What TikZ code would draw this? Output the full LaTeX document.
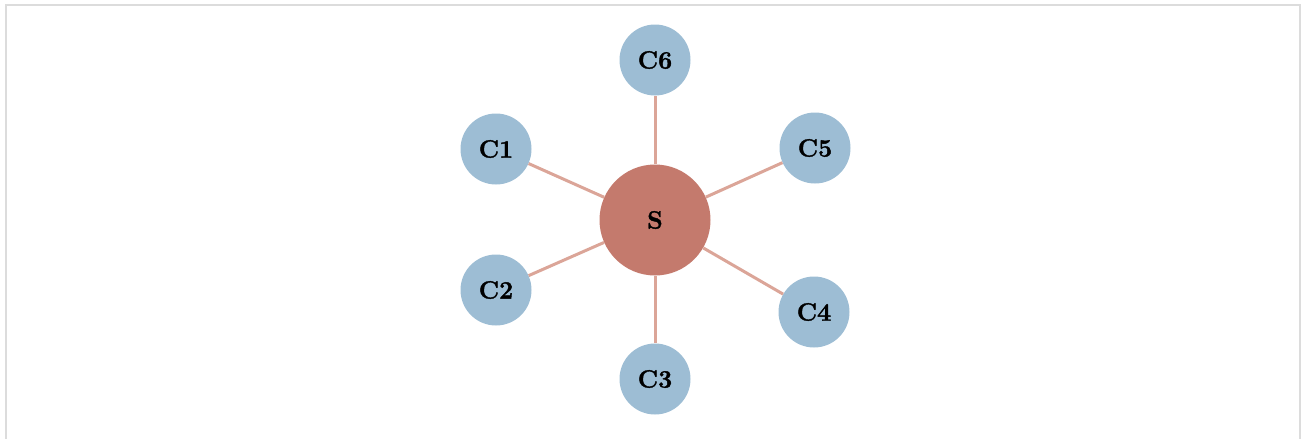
\documentclass[tikz,border=0pt]{standalone}
\usepackage{fontspec}
\newfontfamily\labelfont{Latin Modern Roman}[BoldFeatures={FakeBold=1.5}]
\definecolor{framegray}{HTML}{DCDCDC}
\definecolor{edgecol}{HTML}{DBA598}
\definecolor{servfill}{HTML}{C47A6D}
\definecolor{clifill}{HTML}{9DBDD4}
\begin{document}
\begin{tikzpicture}[x=1pt,y=-1pt,
  lbl/.style={font=\labelfont\fontsize{25}{28}\selectfont\bfseries},
  client/.style={circle,fill=clifill,minimum size=71pt,inner sep=0pt,lbl},
  server/.style={circle,fill=servfill,minimum size=111pt,inner sep=0pt,lbl},
  link/.style={draw=edgecol,line width=3pt}]
\useasboundingbox (0,0) rectangle (1309,439);
\draw[framegray,line width=2.5pt] (6,445) -- (6,5) -- (1300,5) -- (1300,445);
\foreach \p/\n in {{(655,60)}/C6,{(496,149)}/C1,{(815,148)}/C5,{(496,290)}/C2,{(814,312)}/C4,{(655,379)}/C3}
  \node[client] (\n) at \p {\n};
\node[server] (S) at (655,220) {S};
\foreach \c in {C1,C2,C3,C4,C5,C6} \draw[link] (S) -- (\c);
\end{tikzpicture}
\end{document}
